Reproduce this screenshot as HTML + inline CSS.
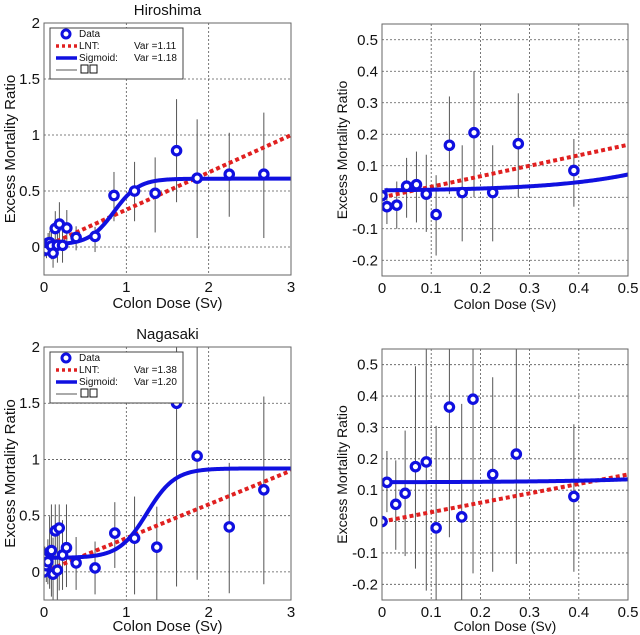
<!DOCTYPE html>
<html><head><meta charset="utf-8"><style>
body{margin:0;background:#fff;}
svg{display:block;font-family:"Liberation Sans",sans-serif;}
</style></head><body>
<svg id="fig" width="640" height="635" xmlns="http://www.w3.org/2000/svg"></svg>
<script>
// Hiroshima data
const hiroX=[0.0,0.01,0.03,0.05,0.07,0.09,0.11,0.137,0.163,0.187,0.225,0.277,0.39,0.62,0.85,1.10,1.35,1.61,1.86,2.25,2.67];
const hiroY=[0.005,-0.03,-0.025,0.035,0.04,0.01,-0.055,0.165,0.015,0.205,0.015,0.17,0.085,0.095,0.46,0.5,0.48,0.86,0.615,0.65,0.65];
const hiroLo=[-0.03,-0.085,-0.1,-0.065,-0.08,-0.11,-0.185,0.01,-0.14,0.0,-0.14,0.0,-0.03,-0.045,0.23,0.23,0.13,0.4,0.08,0.27,0.08];
const hiroHi=[0.035,0.03,0.05,0.125,0.145,0.135,0.07,0.32,0.165,0.4,0.165,0.33,0.185,0.18,0.67,0.76,0.8,1.32,1.14,1.02,1.2];
// Nagasaki data
const nagaX=[0.0,0.01,0.028,0.047,0.068,0.09,0.11,0.137,0.162,0.185,0.225,0.273,0.39,0.62,0.86,1.1,1.37,1.61,1.86,2.25,2.67];
const nagaY=[0.0,0.125,0.055,0.09,0.175,0.19,-0.02,0.365,0.015,0.39,0.15,0.215,0.08,0.035,0.345,0.3,0.22,1.5,1.03,0.4,0.73];
const nagaLo=[-0.045,0.03,-0.09,-0.11,-0.15,-0.22,-0.25,-0.05,-0.25,-0.165,-0.16,-0.135,-0.16,-0.2,0.035,-0.2,-0.26,-0.13,-0.07,-0.19,-0.11];
const nagaHi=[0.045,0.225,0.195,0.29,0.495,0.6,0.305,0.6,0.375,0.6,0.46,0.6,0.31,0.27,0.62,0.67,0.58,2.1,2.1,0.97,1.56];
// model parameters: LNT slope; sigmoid base, top, center, scale
const hiroLNT=[0.333];
const hiroSig=[0.02,0.61,0.85,0.15];
const nagaLNT=[0.3];
const nagaSig=[0.125,0.92,1.25,0.17];
const leftXTicks=[0,1,2,3];
const leftYTicks=[0,0.5,1,1.5,2];
const rightXTicks=[0,0.1,0.2,0.3,0.4,0.5];
const rightYTicks=[-0.2,-0.1,0,0.1,0.2,0.3,0.4,0.5];

const NS="http://www.w3.org/2000/svg";
const svg=document.getElementById('fig');
function el(tag,attrs,parent,text){const e=document.createElementNS(NS,tag);for(const k in attrs)e.setAttribute(k,attrs[k]);if(text!==undefined)e.textContent=text;(parent||svg).appendChild(e);return e;}

function panel(o){
  const g=el('g',{});
  
  
  const sx=v=>o.x0+(v-o.xmin)/(o.xmax-o.xmin)*(o.x1-o.x0);
  const sy=v=>o.y1-(v-o.ymin)/(o.ymax-o.ymin)*(o.y1-o.y0);
  const cid='clip-'+o.name;
  const cp=el('clipPath',{id:cid},g);el('rect',{x:o.x0,y:o.y0,width:o.x1-o.x0,height:o.y1-o.y0},cp);
  o.xt.forEach(t=>{const l=el('line',{x1:sx(t),x2:sx(t),y1:o.y0,y2:o.y1,stroke:'#555','stroke-width':0.8,'stroke-dasharray':'2,2'},g);
    const tx=el('text',{x:sx(t),y:o.y1+17,'text-anchor':'middle','font-size':o.tfs,fill:'#111'},g,String(t));});
  o.yt.forEach(t=>{const l=el('line',{x1:o.x0,x2:o.x1,y1:sy(t),y2:sy(t),stroke:'#555','stroke-width':0.8,'stroke-dasharray':'2,2'},g);
    const tx=el('text',{x:o.x0-4,y:sy(t)+5,'text-anchor':'end','font-size':o.tfs,fill:'#111'},g,String(t));});
  const cg=el('g',{'clip-path':'url(#'+cid+')'},g);
  o.X.forEach((x,i)=>{const l=el('line',{x1:sx(x),x2:sx(x),y1:sy(o.lo[i]),y2:sy(o.hi[i]),stroke:'#555','stroke-width':1},cg);});
  const lnt=el('line',{x1:sx(0),y1:sy(0),x2:sx(o.xmax),y2:sy(o.lnt[0]*o.xmax),stroke:'#e02020','stroke-width':4,'stroke-dasharray':'4,3'},cg);
  
  let d='';const N=200;for(let k=0;k<=N;k++){const x=o.xmin+(o.xmax-o.xmin)*k/N;const x2=Math.max(x,0.005);const y=o.sig[0]+(o.sig[1]-o.sig[0])/(1+Math.exp(-(x2-o.sig[2])/o.sig[3]));d+=(k?'L':'M')+sx(x2).toFixed(2)+','+sy(y).toFixed(2);}
  const sg=el('path',{d:d,fill:'none',stroke:'#1010e0','stroke-width':4},cg);
  
  o.X.forEach((x,i)=>{const c=el('circle',{cx:sx(x),cy:sy(o.Y[i]),r:4.2,fill:'#fff',stroke:'#1010e0','stroke-width':3.2},cg);});
  const fr=el('rect',{x:o.x0,y:o.y0,width:o.x1-o.x0,height:o.y1-o.y0,fill:'none',stroke:'#666','stroke-width':1},g);
  
  const xl=el('text',{x:(o.x0+o.x1)/2,y:o.y1+o.xto,'text-anchor':'middle','font-size':o.lfs,fill:'#111'},g,'Colon Dose (Sv)');
  
  const yc=(o.y0+o.y1)/2;
  const yl=el('text',{x:o.ylx,y:yc,'text-anchor':'middle','font-size':o.lfs,fill:'#111',transform:'rotate(-90 '+o.ylx+' '+yc+')'},g,'Excess Mortality Ratio');
  
  if(o.title){const t=el('text',{x:(o.x0+o.x1)/2,y:o.y0-8,'text-anchor':'middle','font-size':15,fill:'#111'},g,o.title);}
  if(o.leg){
    const L=el('g',{},g);
    const lx=50,ly=o.y0+5;
    el('rect',{x:lx,y:ly,width:133,height:51,fill:'#fff',stroke:'#444','stroke-width':1},L);
    el('circle',{cx:lx+16,cy:ly+6,r:4,fill:'#fff',stroke:'#1010e0','stroke-width':3},L);
    el('text',{x:lx+29,y:ly+9,'font-size':10,fill:'#111'},L,'Data');
    el('line',{x1:lx+6,x2:lx+27,y1:ly+18,y2:ly+18,stroke:'#e02020','stroke-width':3.5,'stroke-dasharray':'3,3'},L);
    el('text',{x:lx+29,y:ly+21,'font-size':10,fill:'#111'},L,'LNT:');
    el('text',{x:lx+84,y:ly+21,'font-size':10,fill:'#111'},L,'Var ='+o.leg[0]);
    el('line',{x1:lx+6,x2:lx+27,y1:ly+30,y2:ly+30,stroke:'#1010e0','stroke-width':3.5},L);
    el('text',{x:lx+29,y:ly+33,'font-size':10,fill:'#111'},L,'Sigmoid:');
    el('text',{x:lx+84,y:ly+33,'font-size':10,fill:'#111'},L,'Var ='+o.leg[1]);
    el('line',{x1:lx+6,x2:lx+27,y1:ly+42,y2:ly+42,stroke:'#555','stroke-width':1},L);
    el('rect',{x:lx+31,y:ly+37,width:7,height:8,fill:'none',stroke:'#111','stroke-width':1},L);
    el('rect',{x:lx+40,y:ly+37,width:7,height:8,fill:'none',stroke:'#111','stroke-width':1},L);
  }
}
panel({name:'hiroshima-full',x0:44,x1:291,y0:23,y1:275,xmin:0,xmax:3,ymin:-0.25,ymax:2,xt:leftXTicks,yt:leftYTicks,X:hiroX,Y:hiroY,lo:hiroLo,hi:hiroHi,lnt:hiroLNT,sig:hiroSig,tfs:15,lfs:15,ylx:15,xto:33,title:'Hiroshima',leg:['1.11','1.18']});
panel({name:'hiroshima-zoom',x0:382,x1:628,y0:24,y1:276,xmin:0,xmax:0.5,ymin:-0.25,ymax:0.55,xt:rightXTicks,yt:rightYTicks,X:hiroX,Y:hiroY,lo:hiroLo,hi:hiroHi,lnt:hiroLNT,sig:hiroSig,tfs:15,lfs:14,ylx:347,xto:33});
panel({name:'nagasaki-full',x0:44,x1:291,y0:347,y1:600,xmin:0,xmax:3,ymin:-0.25,ymax:2,xt:leftXTicks,yt:leftYTicks,X:nagaX,Y:nagaY,lo:nagaLo,hi:nagaHi,lnt:nagaLNT,sig:nagaSig,tfs:15,lfs:15,ylx:15,xto:31,title:'Nagasaki',leg:['1.38','1.20']});
panel({name:'nagasaki-zoom',x0:382,x1:628,y0:349,y1:600,xmin:0,xmax:0.5,ymin:-0.25,ymax:0.55,xt:rightXTicks,yt:rightYTicks,X:nagaX,Y:nagaY,lo:nagaLo,hi:nagaHi,lnt:nagaLNT,sig:nagaSig,tfs:15,lfs:14,ylx:347,xto:31});
</script>
</body></html>
